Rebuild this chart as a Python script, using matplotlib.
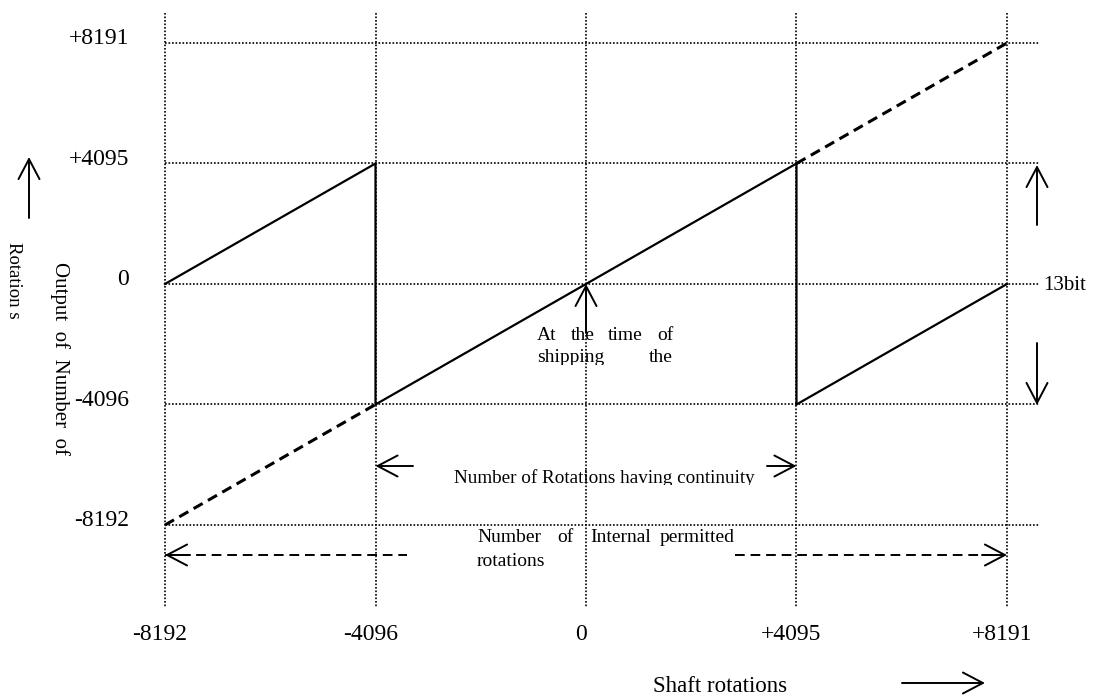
import matplotlib
matplotlib.use("Agg")
import matplotlib.pyplot as plt
from matplotlib.patches import Rectangle
from matplotlib.transforms import offset_copy

plt.rcParams["font.family"] = ["Liberation Serif", "DejaVu Serif"]

# Shaft rotation ticks and the multi-turn output (13 bit window)
shaft_ticks = [-8192, -4096, 0, 4095, 8191]
shaft_labels = ["-8192", "-4096", "0", "+4095", "+8191"]
output_ticks = [8191, 4095, 0, -4096, -8192]
output_labels = ["+8191", "+4095", "0", "-4096", "-8192"]

# Output as the encoder wraps around inside the continuity range
saw_x = [-8192, -4096, -4096, 4095, 4095, 8191]
saw_y = [0, 4095, -4096, 4095, -4096, 0]
# Continuous (unwrapped) count over the whole permitted range
lower_ext_x = [-8192, -4096]
lower_ext_y = [-8192, -4096]
upper_ext_x = [4095, 8191]
upper_ext_y = [4095, 8191]

W, H = 1095, 700
fig = plt.figure(figsize=(W / 100, H / 100), dpi=100)
ax = fig.add_axes([0, 0, 1, 1])
ax.set_xlim(-11402, 9903)
ax.set_ylim(-14140, 9652)
ax.axis("off")


def fig_xy(px, py):
    """Pixel position (from top-left) to figure fraction."""
    return px / W, 1 - py / H


def fpx(px, py):
    """Pixel position (from top-left) to 'figure pixels' coordinates."""
    return px, H - py


dotted = dict(color="black", lw=1.2, linestyle=(0, (1, 1.1)))

# Dotted reference grid
for xv in shaft_ticks:
    ax.plot([xv, xv], [1 - 13 / H, 1 - 607 / H], transform=ax.get_xaxis_transform(), **dotted)
for yv in output_ticks:
    ax.plot([165 / W, 1040 / W], [yv, yv], transform=ax.get_yaxis_transform(), **dotted)

# Curves
ax.plot(saw_x, saw_y, color="black", lw=1.6, solid_joinstyle="miter")
dash_style = dict(color="black", lw=2.2, linestyle=(0, (3.4, 2.0)))
ax.plot(lower_ext_x, lower_ext_y, **dash_style)
ax.plot(upper_ext_x, upper_ext_y, **dash_style)

# Tick labels
tick_fs = 17
xlab_tr = offset_copy(ax.get_xaxis_transform(), fig=fig, x=-5, y=0, units="dots")
for xv, lab in zip(shaft_ticks, shaft_labels):
    ax.text(xv, 1 - 634 / H, lab, transform=xlab_tr, ha="center", va="center", fontsize=tick_fs)
ylab_tr = offset_copy(ax.get_yaxis_transform(), fig=fig, x=0, y=4, units="dots")
for yv, lab in zip(output_ticks, output_labels):
    ax.text(129 / W, yv, lab, transform=ylab_tr, ha="right", va="center", fontsize=tick_fs)

arrow_kw = dict(arrowstyle="->,head_length=0.8,head_width=0.42", color="black", lw=1.4,
                shrinkA=0, shrinkB=0, mutation_scale=18)

# Axis titles
fig.text(*fig_xy(60, 262), "Output  of  Number  of", rotation=270, ha="center", va="top", fontsize=15)
fig.text(*fig_xy(13, 242), "Rotation s", rotation=270, ha="center", va="top", fontsize=13.5)
ax.annotate("", xy=fpx(29, 157), xycoords="figure pixels", xytext=fpx(29, 218),
            textcoords="figure pixels", arrowprops=arrow_kw)

fig.text(*fig_xy(653, 686), "Shaft rotations", ha="left", va="center", fontsize=16.5)
ax.annotate("", xy=fpx(985, 683), xycoords="figure pixels", xytext=fpx(902, 683),
            textcoords="figure pixels", arrowprops=arrow_kw)

# 13 bit span
fig.text(*fig_xy(1043, 285), "13bit", ha="left", va="center", fontsize=15)
ax.annotate("", xy=fpx(1037, 165), xycoords="figure pixels", xytext=fpx(1037, 225),
            textcoords="figure pixels", arrowprops=arrow_kw)
ax.annotate("", xy=fpx(1037, 405), xycoords="figure pixels", xytext=fpx(1037, 343),
            textcoords="figure pixels", arrowprops=arrow_kw)

# Shipping position marker
ax.annotate("", xy=(0, 0), xycoords="data", xytext=fpx(586, 333),
            textcoords="figure pixels", arrowprops=arrow_kw)

ship_clip = Rectangle((0, 1 - 365 / H), 1, 1, transform=fig.transFigure)
words = [("At", 537, 336, "left"), ("the", 571, 336, "left"), ("time", 608, 336, "left"),
         ("of", 673, 336, "right"), ("shipping", 537, 358, "left"), ("the", 673, 358, "right")]
for w, px, py, ha in words:
    t = fig.text(*fig_xy(px, py), w, ha=ha, va="center", fontsize=14)
    t.set_clip_path(ship_clip)

# Continuity range
ax.annotate("", xy=(-4096, 1 - 466 / H), xycoords=ax.get_xaxis_transform(),
            xytext=fpx(413, 466), textcoords="figure pixels", arrowprops=arrow_kw)
ax.annotate("", xy=(4095, 1 - 466 / H), xycoords=ax.get_xaxis_transform(),
            xytext=fpx(767, 466), textcoords="figure pixels", arrowprops=arrow_kw)
cont_clip = Rectangle((0, 1 - 485 / H), 1, 1, transform=fig.transFigure)
t = fig.text(*fig_xy(454, 478), "Number of Rotations having continuity", ha="left", va="center",
             fontsize=13.8)
t.set_clip_path(cont_clip)

# Permitted range
thin_dash = dict(color="black", lw=1.4, linestyle=(0, (5, 3)))
ax.plot([165 / W, 407 / W], [1 - 555 / H] * 2, transform=fig.transFigure, **thin_dash)
ax.plot([735 / W, 1005 / W], [1 - 555 / H] * 2, transform=fig.transFigure, **thin_dash)
ax.annotate("", xy=(-8192, 1 - 555 / H), xycoords=ax.get_xaxis_transform(),
            xytext=fpx(190, 555), textcoords="figure pixels", arrowprops=arrow_kw)
ax.annotate("", xy=(8191, 1 - 555 / H), xycoords=ax.get_xaxis_transform(),
            xytext=fpx(982, 555), textcoords="figure pixels", arrowprops=arrow_kw)
perm = [("Number", 477, 537, "left"), ("of", 557, 537, "left"), ("Internal", 590, 537, "left"),
        ("permitted", 735, 537, "right"), ("rotations", 477, 562, "left")]
for w, px, py, ha in perm:
    fig.text(*fig_xy(px, py), w, ha=ha, va="center", fontsize=14)

fig.savefig("out.png", dpi=100, facecolor="white")
